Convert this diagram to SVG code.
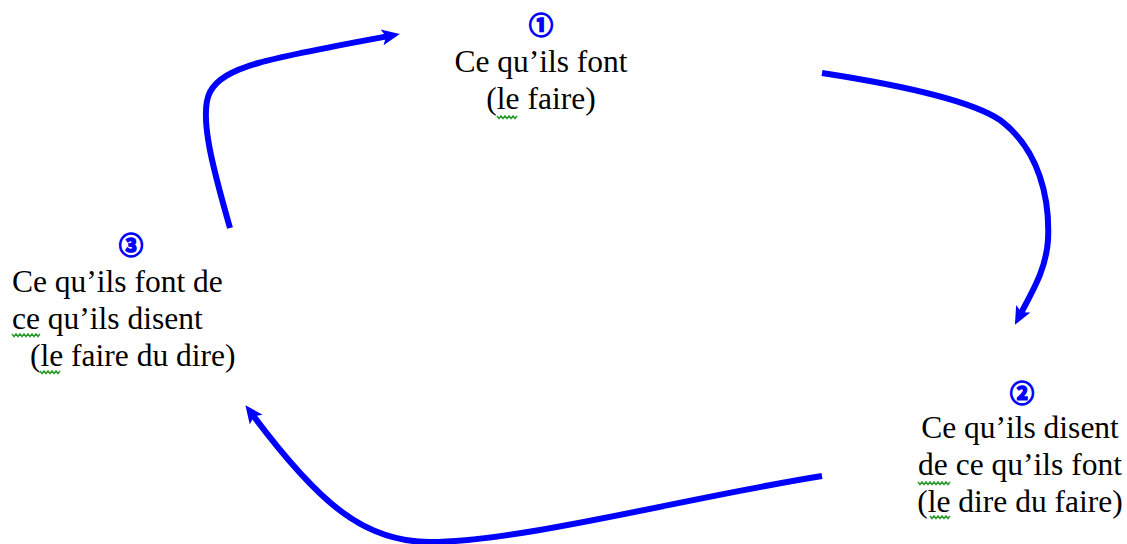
<svg xmlns="http://www.w3.org/2000/svg" width="1127" height="544" viewBox="0 0 1127 544">
  <style>
    .t { font-family: "Liberation Serif", "Times New Roman", serif; font-size: 31.5px; fill: #000; }
    .n { font-family: "Noto Sans CJK JP", "DejaVu Sans", sans-serif; font-size: 24px; font-weight: bold; fill: #0000ff; stroke: #0000ff; stroke-width: 1.6; text-anchor: middle; }
    .sq { fill: none; stroke: #2a9a2a; stroke-width: 1.5; }
    .arr { fill: none; stroke: #0000ff; stroke-width: 6; stroke-linecap: butt; marker-end: url(#head); }
  </style>
  <defs>
    <marker id="head" markerUnits="userSpaceOnUse" viewBox="0 0 18 18" refX="7" refY="9" markerWidth="18" markerHeight="18" orient="auto">
      <path d="M0,1 L18,9 L0,17 L4,9 Z" fill="#0000ff"/>
    </marker>
  </defs>
  <rect width="1127" height="544" fill="#ffffff"/>

  <g id="connectors">
    <path class="arr" d="M230,228 C 214,172 198,115 210,92 C 224,66 270,58 389,36"/>
    <path class="arr" d="M822,73 C 900,85 970,100 1000,120 C 1040,150 1050,200 1048,240 C 1046,270 1032,292 1020,315"/>
    <path class="arr" d="M822,476 C 690,497 520,542 430,542 C 365,542 320,505 252,414"/>
  </g>

  <g id="node1">
    <text class="n" x="541" y="34">①</text>
    <text class="t" x="541" y="72" text-anchor="middle">Ce qu’ils font</text>
    <text class="t" x="541" y="109" text-anchor="middle">(le faire)</text>
    <path class="sq" d="M497,116 l2,2.5 l2,-2.5 l2,2.5 l2,-2.5 l2,2.5 l2,-2.5 l2,2.5 l2,-2.5 l2,2.5 l2,-2.5"/>
  </g>

  <g id="node2">
    <text class="n" x="1022" y="402">②</text>
    <text class="t" x="1020" y="438" text-anchor="middle">Ce qu’ils disent</text>
    <text class="t" x="1020" y="475" text-anchor="middle">de ce qu’ils font</text>
    <text class="t" x="1020" y="512" text-anchor="middle">(le dire du faire)</text>
    <path class="sq" d="M918,482 l2,2.5 l2,-2.5 l2,2.5 l2,-2.5 l2,2.5 l2,-2.5 l2,2.5 l2,-2.5 l2,2.5 l2,-2.5 l2,2.5 l2,-2.5 l2,2.5 l2,-2.5 l2,2.5 l2,-2.5"/>
    <path class="sq" d="M930,516 l2,2.5 l2,-2.5 l2,2.5 l2,-2.5 l2,2.5 l2,-2.5 l2,2.5 l2,-2.5 l2,2.5 l2,-2.5"/>
  </g>

  <g id="node3">
    <text class="n" x="131" y="254">③</text>
    <text class="t" x="12" y="292">Ce qu’ils font de</text>
    <text class="t" x="12" y="329">ce qu’ils disent</text>
    <text class="t" x="30" y="366">(le faire du dire)</text>
    <path class="sq" d="M12,334 l2,2.5 l2,-2.5 l2,2.5 l2,-2.5 l2,2.5 l2,-2.5 l2,2.5 l2,-2.5 l2,2.5 l2,-2.5 l2,2.5 l2,-2.5 l2,2.5 l2,-2.5"/>
    <path class="sq" d="M40,371 l2,2.5 l2,-2.5 l2,2.5 l2,-2.5 l2,2.5 l2,-2.5 l2,2.5 l2,-2.5 l2,2.5 l2,-2.5"/>
  </g>
</svg>
